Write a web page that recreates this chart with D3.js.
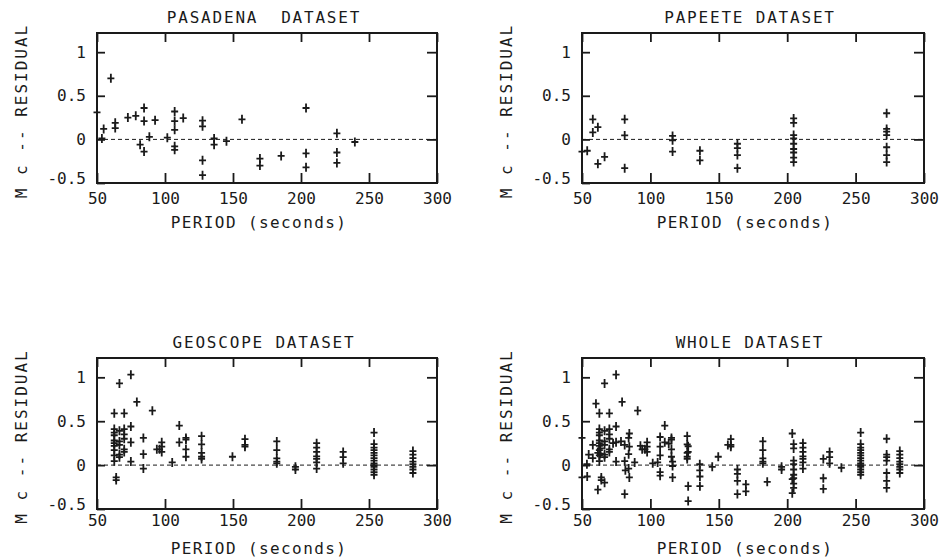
<!DOCTYPE html>
<html>
<head>
<meta charset="utf-8">
<script src="https://cdn.jsdelivr.net/npm/d3@7"></script>
<style>
    body { margin: 0; background: #fff; }
    svg text { font-family: "DejaVu Sans Mono", "Liberation Mono", monospace; fill: #1a1a1a; white-space: pre; }
</style>
</head>
<body>
<svg id="svg" width="940" height="558"></svg>
<script>
// values
var pasadenaPeriod = [50, 53.6, 54.9, 60.2, 63.4, 63.4, 72.7, 78.5, 81.7, 84.6, 84.6, 84.6,
    88.5, 92.7, 101.7, 107.1, 107.1, 107.1, 107.1, 107.1, 113.4, 127.6, 127.6, 127.6, 127.6,
    136.1, 136.1, 145.2, 156.6, 169.8, 169.8, 185.4, 203.7, 203.7, 203.7, 226.4, 226.4, 226.4, 239.6];
var pasadenaResidual = [0.31, 0.01, 0.12, 0.70, 0.19, 0.13, 0.25, 0.27, -0.06, 0.36, 0.21, -0.14,
    0.03, 0.22, 0.02, 0.32, 0.21, 0.11, -0.08, -0.12, 0.245, 0.215, 0.15, -0.24, -0.41,
    0.01, -0.06, -0.02, 0.23, -0.22, -0.30, -0.19, 0.36, -0.16, -0.32, 0.07, -0.15, -0.27, -0.03];

var papeetePeriod = [50, 53.8, 57.9, 57.9, 61.6, 61.6, 66.5, 81.2, 81.2, 81.2, 116.2, 116.2, 116.2,
    136.2, 136.2, 163.6, 163.6, 163.6, 163.6,
    204.7, 204.7, 204.7, 204.7, 204.7, 204.7, 204.7, 204.7, 204.7,
    272.7, 272.7, 272.7, 272.7, 272.7, 272.7, 272.7];
var papeeteResidual = [-0.14, -0.13, 0.23, 0.08, 0.14, -0.28, -0.20, 0.23, 0.045, -0.33, 0.04, -0.01, -0.14,
    -0.13, -0.24, -0.05, -0.10, -0.18, -0.33,
    0.24, 0.19, 0.05, 0.01, -0.05, -0.11, -0.15, -0.21, -0.26,
    0.30, 0.12, 0.09, 0.05, -0.09, -0.18, -0.26];

var geoscopePeriod = [74.9, 66.5, 79.3, 90.7, 62.7, 70, 74.9, 110.5,
    62.7, 62.7, 62.7, 62.7, 62.7, 62.7, 62.7, 62.7, 62.7,
    66.5, 66.5, 66.5, 66.5, 66.5,
    70, 70, 70, 70, 70,
    74.9, 74.9, 84.1, 84.1, 84.1, 64.1, 64.1,
    97.6, 97.6, 97.6, 94, 96, 105.3, 110.5,
    115.4, 115.4, 115.4, 115.4, 126.9, 126.9, 126.9, 126.9, 126.9,
    149.6, 158.8, 158.8, 158.8,
    182.2, 182.2, 182.2, 182.2, 182.2, 195.9, 195.9,
    211.5, 211.5, 211.5, 211.5, 211.5, 211.5, 211.5,
    231, 231, 231,
    253.7, 253.7, 253.7, 253.7, 253.7, 253.7, 253.7, 253.7, 253.7, 253.7, 253.7, 253.7, 253.7, 253.7,
    282.3, 282.3, 282.3, 282.3, 282.3, 282.3, 282.3, 282.3];
var geoscopeResidual = [1.03, 0.93, 0.72, 0.62, 0.59, 0.59, 0.44, 0.45,
    0.41, 0.37, 0.34, 0.28, 0.25, 0.22, 0.17, 0.11, 0.045,
    0.39, 0.27, 0.23, 0.12, 0.09,
    0.41, 0.35, 0.30, 0.18, 0.15,
    0.26, 0.04, 0.31, 0.125, -0.04, -0.14, -0.17,
    0.26, 0.21, 0.15, 0.18, 0.18, 0.03, 0.26,
    0.31, 0.29, 0.18, 0.095, 0.33, 0.235, 0.14, 0.095, 0.07,
    0.095, 0.295, 0.23, 0.21,
    0.27, 0.17, 0.076, 0.04, 0.02, -0.02, -0.05,
    0.25, 0.20, 0.15, 0.10, 0.07, 0.03, -0.04,
    0.15, 0.09, 0.02,
    0.37, 0.24, 0.20, 0.17, 0.14, 0.11, 0.08, 0.05, 0.02, 0, -0.02, -0.05, -0.08, -0.11,
    0.16, 0.12, 0.08, 0.04, 0.01, -0.02, -0.05, -0.09];

// whole dataset = the three stations together
var wholePeriod = pasadenaPeriod.concat(papeetePeriod, geoscopePeriod);
var wholeResidual = pasadenaResidual.concat(papeeteResidual, geoscopeResidual);

var xTicks = [50, 100, 150, 200, 250, 300];
var yTicks = [-0.5, 0, 0.5, 1];
var xDomain = [50, 300];
var yDomain = [-0.5, 1.22];
var titles = ['PASADENA  DATASET', 'PAPEETE DATASET', 'GEOSCOPE DATASET', 'WHOLE DATASET'];
var xLabel = 'PERIOD (seconds)';
var yLabel = 'M c -- RESIDUAL';

var panels = [
    {title: titles[0], period: pasadenaPeriod, residual: pasadenaResidual,
        left: 97, right: 437, top: 33, bottom: 183, gap: 10},
    {title: titles[1], period: papeetePeriod, residual: papeeteResidual,
        left: 582, right: 924, top: 33, bottom: 183, gap: 10},
    {title: titles[2], period: geoscopePeriod, residual: geoscopeResidual,
        left: 97, right: 437, top: 358, bottom: 509, gap: 6},
    {title: titles[3], period: wholePeriod, residual: wholeResidual,
        left: 582, right: 924, top: 358, bottom: 509, gap: 6}
];

var svg = d3.select('#svg');
var ink = '#1a1a1a';

function style_axis(sel) {
    sel.select('.domain').remove();
    sel.selectAll('line')
        .attr('stroke', ink)
        .attr('stroke-width', 1.8);
    sel.attr('font-family', null)
        .attr('font-size', 16);
    sel.selectAll('text').attr('fill', ink);
}

function draw_panel(p) {
    var g = svg.append('g');
    var x = d3.scaleLinear().domain(xDomain).range([p.left, p.right]);
    var y = d3.scaleLinear().domain(yDomain).range([p.bottom, p.top]);

    // zero reference line
    g.append('line')
        .attr('x1', x(xDomain[0])).attr('x2', x(xDomain[1]))
        .attr('y1', y(0)).attr('y2', y(0))
        .attr('stroke', ink)
        .attr('stroke-width', 1)
        .attr('stroke-dasharray', '4,3');

    g.append('g')
        .attr('transform', 'translate(0,' + p.bottom + ')')
        .call(d3.axisBottom(x).tickValues(xTicks).tickSize(-10).tickPadding(p.gap)
            .tickFormat(function(d) { return String(d); }))
        .call(style_axis);
    g.append('g')
        .attr('transform', 'translate(0,' + p.top + ')')
        .call(d3.axisTop(x).tickValues(xTicks).tickSize(-9).tickFormat(''))
        .call(style_axis);
    var left = g.append('g')
        .attr('transform', 'translate(' + p.left + ',0)')
        .call(d3.axisLeft(y).tickValues(yTicks).tickSize(-8).tickPadding(11)
            .tickFormat(function(d) { return String(d); }))
        .call(style_axis);
    left.selectAll('text')
        .filter(function(d) { return d === -0.5; })
        .attr('dy', '0.05em');
    g.append('g')
        .attr('transform', 'translate(' + p.right + ',0)')
        .call(d3.axisRight(y).tickValues([0, 0.5, 1]).tickSize(-10).tickFormat(''))
        .call(style_axis);

    // frame
    g.append('rect')
        .attr('x', p.left).attr('y', p.top)
        .attr('width', p.right - p.left)
        .attr('height', p.bottom - p.top)
        .attr('fill', 'none')
        .attr('stroke', ink)
        .attr('stroke-width', 2);

    // plus markers
    g.selectAll('path.mark')
        .data(d3.range(p.period.length))
        .enter()
        .append('path')
        .attr('class', 'mark')
        .attr('d', 'M-3.5,0H3.5M0,-4.5V4.5')
        .attr('transform', function(i) {
            return 'translate(' + x(p.period[i]) + ',' + y(p.residual[i]) + ')';
        })
        .attr('fill', 'none')
        .attr('stroke', ink)
        .attr('stroke-width', 1.8);

    var mid = (p.left + p.right) / 2;
    g.append('text')
        .attr('x', mid - 3)
        .attr('y', p.top - 10)
        .attr('text-anchor', 'middle')
        .attr('font-size', 16)
        .attr('letter-spacing', 1.8)
        .text(p.title);
    g.append('text')
        .attr('x', mid - 8)
        .attr('y', p.bottom + 44.5)
        .attr('text-anchor', 'middle')
        .attr('font-size', 16)
        .attr('letter-spacing', 1.4)
        .text(xLabel);
    g.append('text')
        .attr('transform', 'translate(' + (p.left - 70) + ',' + ((p.top + p.bottom) / 2 + 3) + ') rotate(-90)')
        .attr('text-anchor', 'middle')
        .attr('font-size', 16)
        .attr('letter-spacing', 2)
        .text(yLabel);
}

panels.forEach(draw_panel);
</script>
</body>
</html>
